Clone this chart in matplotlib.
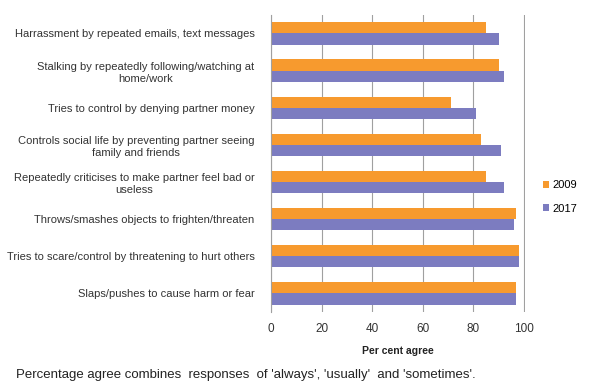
import matplotlib
matplotlib.use("Agg")
from matplotlib import pyplot as plt
import numpy as np

plt.rcParams["font.family"] = ["Liberation Sans", "DejaVu Sans"]

categories = [
    "Harrassment by repeated emails, text messages",
    "Stalking by repeatedly following/watching at\nhome/work",
    "Tries to control by denying partner money",
    "Controls social life by preventing partner seeing\nfamily and friends",
    "Repeatedly criticises to make partner feel bad or\nuseless",
    "Throws/smashes objects to frighten/threaten",
    "Tries to scare/control by threatening to hurt others",
    "Slaps/pushes to cause harm or fear",
]
values_2009 = [85, 90, 71, 83, 85, 97, 98, 97]
values_2017 = [90, 92, 81, 91, 92, 96, 98, 97]
x_ticks = [0, 20, 40, 60, 80, 100]

color_2009 = "#F79A2E"
color_2017 = "#7C7CC0"

fig = plt.figure(figsize=(6, 3.92), dpi=100)
ax = fig.add_axes([0.452, 0.204, 0.423, 0.758])

y = np.arange(len(categories))
h = 0.3
ax.barh(y - h / 2, values_2009, height=h, color=color_2009, label="2009")
ax.barh(y + h / 2, values_2017, height=h, color=color_2017, label="2017")

ax.set_ylim(len(categories) - 0.5, -0.5)
ax.set_xlim(0, 100.4)
ax.set_xticks(x_ticks)
ax.set_yticks(y)
ax.set_yticklabels(categories, fontsize=8, color="#333333",
                   multialignment="center", linespacing=1.3)
ax.tick_params(axis="y", length=0, pad=12)
ax.tick_params(axis="x", length=0, pad=8, labelsize=8.5, labelcolor="#333333")

ax.grid(axis="x", color="#a0a0a0", linewidth=0.8)
ax.set_axisbelow(True)
for side in ["top", "right", "bottom"]:
    ax.spines[side].set_visible(False)
ax.spines["left"].set_color("#a0a0a0")

ax.set_xlabel("Per cent agree", fontsize=7.5, fontweight="bold",
              color="#222222", labelpad=8)

ax.legend(loc="center left", bbox_to_anchor=(1.03, 0.387), frameon=False,
          fontsize=8, handlelength=0.6, handleheight=0.6,
          handletextpad=0.3, labelspacing=1.2)

fig.text(0.026, 0.043,
         "Percentage agree combines  responses  of 'always', 'usually'  and 'sometimes'.",
         fontsize=9.5, color="#222222", va="center")

fig.savefig("out.png", dpi=100)
